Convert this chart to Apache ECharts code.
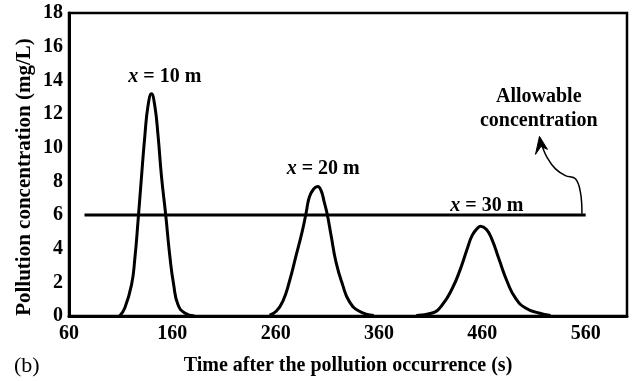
<!DOCTYPE html>
<html>
<head>
<meta charset="utf-8">
<script src="https://cdn.jsdelivr.net/npm/echarts@6/dist/echarts.min.js"></script>
<style>
  html, body { margin: 0; padding: 0; background: #fff; }
  #chart { width: 632px; height: 381px; }
</style>
</head>
<body>
<div id="chart"></div>
<script>
// x = 10 m
var t1 = [109, 114, 120.5, 123.7, 127, 130, 133.4, 136.5, 139.8, 143, 146.2, 149.5, 153.6, 157.5, 161.3, 165.5, 172, 181.6];
var c1 = [0, 0.47, 1.85, 3.4, 5.8, 8.15, 10.7, 12.5, 13.2, 12.5, 10.7, 8.3, 6, 3.6, 1.85, 0.67, 0.18, 0];
// x = 20 m
var t2 = [254, 260.5, 266.9, 273.3, 279.8, 285.6, 289.4, 292.6, 296.8, 300.6, 303.9, 307, 309.7, 313.6, 318.4, 324.8, 331.2, 341, 355];
var c2 = [0.05, 0.28, 0.87, 2.05, 3.6, 5, 6.1, 7.07, 7.55, 7.7, 7.46, 6.77, 6.1, 4.8, 3.2, 1.85, 0.87, 0.28, 0.03];
// x = 30 m
var t3 = [396, 411.6, 421.3, 431, 439, 445.4, 450.3, 455.1, 458.4, 463.8, 469, 476, 484, 492.1, 501.8, 514.6, 526];
var c3 = [0.03, 0.18, 0.67, 1.65, 2.83, 4.0, 4.8, 5.2, 5.33, 5.15, 4.6, 3.4, 2.05, 1.06, 0.47, 0.18, 0.03];
// allowable concentration line
var limitT = [75, 560];
var limitC = 6;

var xTicks = { min: 60, max: 600, step: 100 };
var yTicks = { min: 0, max: 18, step: 2 };

// annotation anchors (data coords)
var peakLabels = [
    { name: '10', t: 152.7, c: 14.2 },
    { name: '20', t: 306, c: 8.74 },
    { name: '30', t: 464.4, c: 6.55 }
];
var arrowPts = [[556.4, 6.08], [554.9, 7.36], [550.1, 8.15], [540.4, 8.34], [530.8, 8.74], [522.6, 9.43], [517.8, 10.11], [515.6, 10.6]];

function pairs(xs, ys) {
    var out = [];
    for (var i = 0; i < xs.length; i++) out.push([xs[i], ys[i]]);
    return out;
}

var FONT = '"Liberation Serif", "Times New Roman", serif';

var myChart = echarts.init(document.getElementById('chart'));

function curve(name, data) {
    return {
        name: name,
        type: 'line',
        data: data,
        smooth: 0.5,
        symbol: 'none',
        lineStyle: { color: '#000', width: 3, join: 'round' },
        silent: true,
        z: 3
    };
}

var option = {
    animation: false,
    backgroundColor: '#fff',
    grid: {
        left: 69, right: 5, top: 13, bottom: 63,
        show: true, borderColor: '#000', borderWidth: 2.5
    },
    xAxis: {
        type: 'value',
        min: xTicks.min, max: xTicks.max, interval: xTicks.step,
        name: 'Time after the pollution occurrence (s)',
        nameLocation: 'middle',
        nameGap: 40,
        nameTextStyle: { color: '#000', fontFamily: FONT, fontWeight: 'bold', fontSize: 20 },
        axisLine: { show: true, lineStyle: { color: '#000', width: 3 } },
        axisTick: { show: false },
        splitLine: { show: false },
        axisLabel: {
            showMaxLabel: false,
            margin: 8,
            color: '#000', fontFamily: FONT, fontWeight: 'bold', fontSize: 20
        }
    },
    yAxis: {
        type: 'value',
        min: yTicks.min, max: yTicks.max, interval: yTicks.step,
        axisLine: { show: true, lineStyle: { color: '#000', width: 3 } },
        axisTick: { show: false },
        splitLine: { show: false },
        axisLabel: {
            margin: 6,
            color: '#000', fontFamily: FONT, fontWeight: 'bold', fontSize: 20
        }
    },
    series: [
        curve('x = 10 m', pairs(t1, c1)),
        curve('x = 20 m', pairs(t2, c2)),
        curve('x = 30 m', pairs(t3, c3)),
        {
            name: 'Allowable concentration',
            type: 'line',
            data: [[limitT[0], limitC], [limitT[1], limitC]],
            symbol: 'none',
            lineStyle: { color: '#000', width: 3 },
            silent: true,
            z: 2
        }
    ]
};

myChart.setOption(option);

// annotations placed in data coordinates
function px(t, c) { return myChart.convertToPixel({ gridIndex: 0 }, [t, c]); }

var graphics = [];
peakLabels.forEach(function (p) {
    var pt = px(p.t, p.c);
    graphics.push({
        type: 'text', x: pt[0], y: pt[1], z: 10,
        style: {
            text: '{i|x} = ' + p.name + ' m',
            rich: { i: { fontStyle: 'italic', fontFamily: FONT, fontWeight: 'bold', fontSize: 20, fill: '#000' } },
            fontFamily: FONT, fontWeight: 'bold', fontSize: 20, fill: '#000',
            align: 'center', verticalAlign: 'middle'
        }
    });
});

var noteA = px(514.6, 13.0);
var noteB = px(514.6, 11.57);
graphics.push({
    type: 'text', x: noteA[0], y: noteA[1], z: 10,
    style: { text: 'Allowable', fontFamily: FONT, fontWeight: 'bold', fontSize: 20, fill: '#000', align: 'center', verticalAlign: 'middle' }
});
graphics.push({
    type: 'text', x: noteB[0], y: noteB[1], z: 10,
    style: { text: 'concentration', fontFamily: FONT, fontWeight: 'bold', fontSize: 20, fill: '#000', align: 'center', verticalAlign: 'middle' }
});

var arrowPix = arrowPts.map(function (p) { return px(p[0], p[1]); });
graphics.push({
    type: 'polyline', z: 10,
    shape: { points: arrowPix, smooth: 0.4 },
    style: { stroke: '#000', lineWidth: 1.5, fill: null }
});
var tip = px(515.3, 10.67);
graphics.push({
    type: 'polygon', z: 10,
    shape: { points: [[tip[0] - 4, tip[1] + 18], [tip[0], tip[1]], [tip[0] + 8, tip[1] + 13], [tip[0] + 1.5, tip[1] + 10]] },
    style: { fill: '#000', stroke: '#000', lineWidth: 1 }
});

// y axis title, sits a little below the plot's middle in the original
graphics.push({
    type: 'text', x: 25, y: 177, rotation: Math.PI / 2,
    style: {
        text: 'Pollution concentration (mg/L)', fontFamily: FONT, fontWeight: 'bold', fontSize: 21, fill: '#000',
        align: 'center', verticalAlign: 'middle'
    }
});
graphics.push({
    type: 'text', left: 14, top: 355,
    style: { text: '(b)', fontFamily: FONT, fontSize: 22, fill: '#000' }
});

myChart.setOption({ graphic: graphics });

window.addEventListener('resize', function () {
    myChart.resize();
});
</script>
</body>
</html>
